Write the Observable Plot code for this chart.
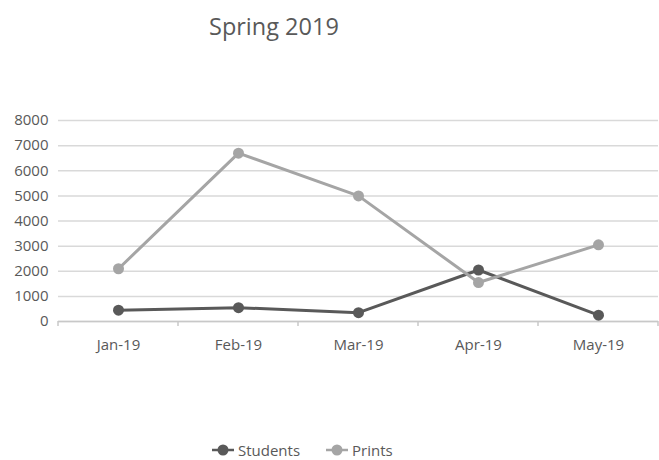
<!DOCTYPE html>
<html>
<head>
<meta charset="utf-8">
<script src="https://cdn.jsdelivr.net/npm/d3@7"></script>
<script src="https://cdn.jsdelivr.net/npm/@observablehq/plot@0.6"></script>
<style>
  body { margin: 0; background: #fff; font-family: "Open Sans", sans-serif; }
  #wrap { width: 659px; }
  #title { height: 60px; position: relative; }
  #title span { position: absolute; left: 209px; top: 10px; font-size: 23.5px; color: #595959; white-space: nowrap; }
  #legend { height: 20px; position: relative; font-size: 15px; color: #595959; }
  .item { position: absolute; top: 0px; display: flex; align-items: center; line-height: 20px; }
  .item svg { margin-right: 4px; }
</style>
</head>
<body>
<div id="wrap">
  <div id="title"><span>Spring 2019</span></div>
  <div id="chart"></div>
  <div id="legend"></div>
</div>
<script>
const months = ["Jan-19", "Feb-19", "Mar-19", "Apr-19", "May-19"];
const students = [450, 550, 350, 2050, 250];
const prints = [2100, 6700, 5000, 1550, 3050];
const seriesNames = ["Students", "Prints"];
const seriesColors = ["#595959", "#a5a5a5"];
const yTicks = [0, 1000, 2000, 3000, 4000, 5000, 6000, 7000, 8000];

const data = [];
months.forEach((m, i) => {
  data.push({month: m, value: students[i], series: "Students"});
  data.push({month: m, value: prints[i], series: "Prints"});
});
const color = {domain: seriesNames, range: seriesColors};

const chart = Plot.plot({
  width: 659,
  height: 380,
  marginTop: 60,
  marginBottom: 119,
  marginLeft: 58,
  marginRight: 1,
  style: {fontFamily: "Open Sans, sans-serif", fontSize: "15px", color: "#595959"},
  x: {domain: months, type: "band", padding: 0, label: null},
  y: {domain: [0, 8000], label: null},
  color,
  marks: [
    Plot.gridY(yTicks, {stroke: "#d9d9d9", strokeOpacity: 1, strokeWidth: 1.5}),
    Plot.axisY(yTicks, {tickSize: 0, tickPadding: 10, tickFormat: d => String(d), fontSize: 15}),
    Plot.axisX({tickSize: 0, tickPadding: 18, fontSize: 15}),
    Plot.ruleY([0], {stroke: "#c8c8c8", strokeWidth: 1.5}),
    Plot.lineY(data, {x: "month", y: "value", stroke: "series", z: "series", strokeWidth: 3}),
    Plot.dot(data, {x: "month", y: "value", fill: "series", r: 5.5})
  ]
});
document.getElementById("chart").appendChild(chart);

// band-boundary tick marks below axis
const svg = d3.select(chart);
const xs = Plot.scale({x: {domain: months, type: "band", padding: 0, range: [58, 658]}});
const yAxis = 321 - 60;
const bounds = months.map(m => xs.apply(m)).concat([658]);
svg.append("g").selectAll("line").data(bounds).join("line")
  .attr("x1", d => d).attr("x2", d => d)
  .attr("y1", yAxis).attr("y2", yAxis + 5)
  .attr("stroke", "#c8c8c8").attr("stroke-width", 1.5);

const legend = document.getElementById("legend");
const lx = [212, 326];
seriesNames.forEach((s, i) => {
  const el = document.createElement("div");
  el.className = "item";
  el.style.left = lx[i] + "px";
  el.innerHTML = `<svg width="22" height="12"><line x1="0" x2="22" y1="6" y2="6" stroke="${seriesColors[i]}" stroke-width="2.5"/><circle cx="11" cy="6" r="5.5" fill="${seriesColors[i]}"/></svg><span>${s}</span>`;
  legend.appendChild(el);
});
</script>
</body>
</html>
